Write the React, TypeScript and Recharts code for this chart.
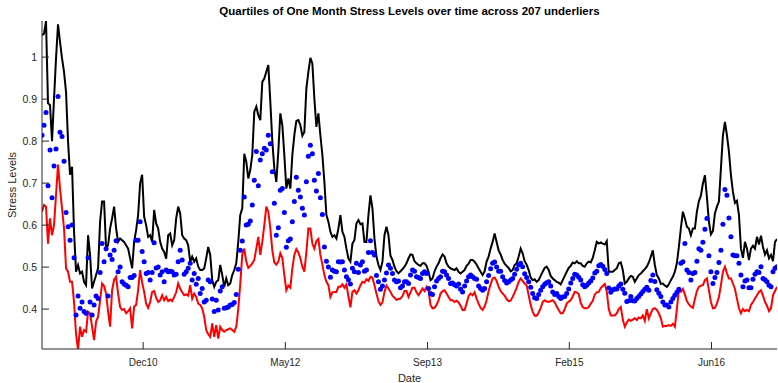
import React from "react";
import { LineChart, Line, XAxis, YAxis } from "recharts";

// Weekly quartiles of one-month stress levels (207 underliers)
const upperQuartile: number[] = [
  1.052, 1.056, 1.086, 0.89, 0.886, 0.8, 0.9, 0.997, 1.078, 1.036,
  0.997, 0.965, 0.917, 0.8, 0.72, 0.739, 0.584, 0.489, 0.505, 0.485,
  0.489, 0.465, 0.457, 0.576, 0.529, 0.449, 0.465, 0.481, 0.497, 0.608,
  0.656, 0.656, 0.544, 0.552, 0.592, 0.616, 0.644, 0.592, 0.56, 0.568,
  0.564, 0.56, 0.552, 0.544, 0.521, 0.497, 0.56, 0.588, 0.624, 0.7,
  0.72, 0.62, 0.6, 0.572, 0.576, 0.56, 0.636, 0.604, 0.592, 0.56,
  0.544, 0.536, 0.52, 0.576, 0.58, 0.552, 0.564, 0.616, 0.644, 0.628,
  0.576, 0.568, 0.564, 0.552, 0.513, 0.525, 0.513, 0.521, 0.501, 0.493,
  0.493, 0.497, 0.521, 0.548, 0.529, 0.469, 0.453, 0.465, 0.469, 0.505,
  0.481, 0.453, 0.473, 0.457, 0.461, 0.481, 0.493, 0.509, 0.56, 0.624,
  0.64, 0.77, 0.751, 0.711, 0.731, 0.767, 0.87, 0.882, 0.862, 0.85,
  0.941, 0.949, 0.965, 0.981, 0.894, 0.8, 0.735, 0.703, 0.775, 0.866,
  0.838, 0.767, 0.687, 0.711, 0.687, 0.767, 0.814, 0.848, 0.85, 0.838,
  0.813, 0.822, 0.925, 0.965, 0.998, 0.985, 0.901, 0.834, 0.866, 0.814,
  0.767, 0.703, 0.624, 0.608, 0.584, 0.572, 0.576, 0.568, 0.592, 0.624,
  0.584, 0.572, 0.544, 0.521, 0.513, 0.556, 0.564, 0.604, 0.612, 0.602,
  0.604, 0.56, 0.56, 0.624, 0.671, 0.64, 0.568, 0.525, 0.505, 0.493,
  0.513, 0.576, 0.596, 0.576, 0.527, 0.517, 0.501, 0.49, 0.485, 0.49,
  0.495, 0.501, 0.509, 0.521, 0.53, 0.529, 0.514, 0.509, 0.505, 0.503,
  0.509, 0.509, 0.503, 0.489, 0.469, 0.473, 0.49, 0.501, 0.509, 0.521,
  0.53, 0.525, 0.509, 0.501, 0.497, 0.495, 0.493, 0.497, 0.489, 0.485,
  0.489, 0.493, 0.503, 0.508, 0.517, 0.517, 0.513, 0.506, 0.497, 0.489,
  0.481, 0.49, 0.513, 0.525, 0.544, 0.56, 0.58, 0.56, 0.54, 0.53,
  0.517, 0.508, 0.503, 0.498, 0.49, 0.493, 0.505, 0.509, 0.525, 0.544,
  0.533, 0.514, 0.506, 0.493, 0.475, 0.469, 0.471, 0.465, 0.469, 0.479,
  0.489, 0.498, 0.501, 0.493, 0.479, 0.473, 0.469, 0.465, 0.463, 0.459,
  0.469, 0.479, 0.489, 0.498, 0.503, 0.511, 0.509, 0.514, 0.509, 0.509,
  0.503, 0.501, 0.509, 0.513, 0.511, 0.522, 0.54, 0.56, 0.556, 0.559,
  0.556, 0.554, 0.562, 0.489, 0.489, 0.489, 0.493, 0.497, 0.509, 0.511,
  0.493, 0.461, 0.465, 0.473, 0.479, 0.477, 0.465, 0.473, 0.481, 0.485,
  0.49, 0.495, 0.501, 0.511, 0.525, 0.54, 0.505, 0.481, 0.473, 0.46,
  0.461, 0.456, 0.453, 0.459, 0.469, 0.477, 0.489, 0.509, 0.548, 0.592,
  0.632, 0.616, 0.596, 0.592, 0.576, 0.592, 0.592, 0.632, 0.657, 0.67,
  0.699, 0.719, 0.667, 0.608, 0.578, 0.586, 0.628, 0.644, 0.656, 0.735,
  0.814, 0.846, 0.814, 0.775, 0.719, 0.679, 0.653, 0.658, 0.624, 0.544,
  0.522, 0.56, 0.544, 0.517, 0.544, 0.551, 0.544, 0.572, 0.554, 0.575,
  0.548, 0.53, 0.54, 0.521, 0.529, 0.514, 0.56, 0.567,
];

const medianLevel: number[] = [
  0.814, 0.838, 0.868, 0.694, 0.779, 0.665, 0.741, 0.781, 0.906, 0.821,
  0.811, 0.752, 0.63, 0.596, 0.564, 0.6, 0.522, 0.386, 0.431, 0.402,
  0.417, 0.394, 0.39, 0.522, 0.417, 0.386, 0.41, 0.431, 0.425, 0.487,
  0.556, 0.513, 0.544, 0.431, 0.529, 0.518, 0.54, 0.563, 0.489, 0.5,
  0.465, 0.46, 0.457, 0.453, 0.475, 0.475, 0.48, 0.564, 0.564, 0.608,
  0.537, 0.513, 0.485, 0.487, 0.469, 0.487, 0.558, 0.498, 0.5, 0.481,
  0.489, 0.465, 0.493, 0.489, 0.49, 0.489, 0.481, 0.483, 0.513, 0.54,
  0.517, 0.483, 0.489, 0.497, 0.509, 0.469, 0.485, 0.459, 0.473, 0.437,
  0.449, 0.417, 0.421, 0.469, 0.465, 0.424, 0.394, 0.421, 0.398, 0.443,
  0.453, 0.402, 0.403, 0.405, 0.41, 0.411, 0.416, 0.435, 0.495, 0.54,
  0.562, 0.667, 0.6, 0.602, 0.61, 0.648, 0.707, 0.775, 0.694, 0.755,
  0.77, 0.783, 0.779, 0.814, 0.794, 0.727, 0.652, 0.576, 0.594, 0.683,
  0.687, 0.63, 0.547, 0.563, 0.567, 0.608, 0.656, 0.714, 0.683, 0.667,
  0.64, 0.624, 0.703, 0.764, 0.79, 0.77, 0.707, 0.681, 0.723, 0.665,
  0.625, 0.548, 0.514, 0.5, 0.476, 0.493, 0.49, 0.489, 0.513, 0.512,
  0.513, 0.493, 0.477, 0.47, 0.46, 0.497, 0.489, 0.509, 0.487, 0.505,
  0.513, 0.49, 0.493, 0.535, 0.563, 0.535, 0.529, 0.48, 0.465, 0.447,
  0.455, 0.469, 0.486, 0.505, 0.497, 0.485, 0.469, 0.465, 0.467, 0.451,
  0.455, 0.465, 0.465, 0.461, 0.481, 0.493, 0.49, 0.477, 0.475, 0.473,
  0.485, 0.489, 0.485, 0.449, 0.437, 0.435, 0.453, 0.467, 0.473, 0.477,
  0.49, 0.489, 0.481, 0.473, 0.461, 0.462, 0.458, 0.455, 0.46, 0.447,
  0.441, 0.455, 0.467, 0.477, 0.481, 0.477, 0.473, 0.471, 0.455, 0.449,
  0.445, 0.449, 0.465, 0.48, 0.496, 0.509, 0.512, 0.5, 0.49, 0.49,
  0.477, 0.468, 0.462, 0.465, 0.469, 0.473, 0.483, 0.495, 0.505, 0.509,
  0.501, 0.484, 0.475, 0.465, 0.452, 0.437, 0.427, 0.425, 0.435, 0.445,
  0.453, 0.459, 0.463, 0.465, 0.455, 0.441, 0.435, 0.437, 0.43, 0.425,
  0.429, 0.43, 0.437, 0.448, 0.462, 0.473, 0.483, 0.481, 0.476, 0.469,
  0.458, 0.453, 0.457, 0.462, 0.467, 0.474, 0.486, 0.49, 0.503, 0.506,
  0.502, 0.494, 0.485, 0.45, 0.44, 0.446, 0.448, 0.448, 0.455, 0.46,
  0.447, 0.438, 0.418, 0.42, 0.43, 0.42, 0.419, 0.425, 0.43, 0.436,
  0.442, 0.447, 0.452, 0.445, 0.468, 0.481, 0.466, 0.446, 0.438, 0.43,
  0.417, 0.41, 0.41, 0.405, 0.417, 0.425, 0.433, 0.44, 0.447, 0.509,
  0.513, 0.556, 0.493, 0.487, 0.469, 0.485, 0.487, 0.514, 0.544, 0.54,
  0.559, 0.59, 0.616, 0.527, 0.489, 0.461, 0.475, 0.487, 0.511, 0.54,
  0.602, 0.685, 0.671, 0.617, 0.572, 0.529, 0.527, 0.527, 0.509, 0.481,
  0.453, 0.467, 0.469, 0.451, 0.451, 0.471, 0.483, 0.489, 0.487, 0.501,
  0.473, 0.47, 0.465, 0.457, 0.453, 0.489, 0.497, 0.501,
];

const lowerQuartile: number[] = [
  0.632, 0.648, 0.644, 0.556, 0.616, 0.576, 0.6, 0.671, 0.744, 0.687,
  0.64, 0.592, 0.497, 0.489, 0.465, 0.465, 0.417, 0.34, 0.303, 0.358,
  0.334, 0.35, 0.346, 0.394, 0.39, 0.358, 0.326, 0.37, 0.382, 0.42,
  0.461, 0.455, 0.437, 0.394, 0.358, 0.445, 0.47, 0.477, 0.437, 0.405,
  0.398, 0.4, 0.39, 0.395, 0.402, 0.354, 0.406, 0.41, 0.445, 0.493,
  0.463, 0.441, 0.413, 0.403, 0.417, 0.441, 0.443, 0.427, 0.417, 0.421,
  0.433, 0.421, 0.429, 0.419, 0.423, 0.419, 0.429, 0.44, 0.461, 0.449,
  0.44, 0.433, 0.435, 0.432, 0.457, 0.425, 0.437, 0.429, 0.413, 0.41,
  0.402, 0.382, 0.35, 0.34, 0.334, 0.366, 0.334, 0.362, 0.33, 0.358,
  0.35, 0.346, 0.35, 0.352, 0.354, 0.35, 0.346, 0.358, 0.4, 0.46,
  0.53, 0.544, 0.513, 0.498, 0.503, 0.509, 0.517, 0.544, 0.572, 0.529,
  0.56, 0.6, 0.644, 0.632, 0.592, 0.54, 0.511, 0.506, 0.513, 0.533,
  0.522, 0.481, 0.445, 0.456, 0.451, 0.497, 0.529, 0.543, 0.535, 0.521,
  0.501, 0.489, 0.536, 0.592, 0.592, 0.556, 0.544, 0.562, 0.567, 0.529,
  0.506, 0.481, 0.465, 0.457, 0.429, 0.44, 0.441, 0.441, 0.453, 0.453,
  0.459, 0.451, 0.459, 0.43, 0.404, 0.441, 0.445, 0.437, 0.445, 0.457,
  0.465, 0.463, 0.471, 0.467, 0.477, 0.475, 0.457, 0.437, 0.419, 0.41,
  0.416, 0.441, 0.456, 0.449, 0.441, 0.432, 0.427, 0.422, 0.424, 0.425,
  0.431, 0.443, 0.443, 0.429, 0.44, 0.451, 0.451, 0.44, 0.433, 0.441,
  0.449, 0.443, 0.453, 0.445, 0.41, 0.402, 0.403, 0.41, 0.421, 0.437,
  0.443, 0.445, 0.437, 0.429, 0.421, 0.421, 0.417, 0.42, 0.416, 0.408,
  0.398, 0.398, 0.413, 0.431, 0.437, 0.433, 0.44, 0.425, 0.413, 0.403,
  0.398, 0.406, 0.421, 0.443, 0.459, 0.473, 0.475, 0.467, 0.453, 0.443,
  0.437, 0.432, 0.424, 0.419, 0.42, 0.429, 0.439, 0.451, 0.465, 0.473,
  0.467, 0.461, 0.456, 0.433, 0.41, 0.394, 0.384, 0.384, 0.392, 0.403,
  0.417, 0.421, 0.418, 0.417, 0.419, 0.421, 0.416, 0.406, 0.398, 0.39,
  0.39, 0.4, 0.413, 0.418, 0.421, 0.43, 0.441, 0.44, 0.436, 0.415,
  0.405, 0.402, 0.402, 0.405, 0.413, 0.42, 0.435, 0.44, 0.441, 0.45,
  0.455, 0.46, 0.442, 0.4, 0.385, 0.385, 0.385, 0.39, 0.4, 0.405,
  0.375, 0.358, 0.368, 0.375, 0.372, 0.375, 0.378, 0.374, 0.38, 0.378,
  0.385, 0.372, 0.4, 0.378, 0.39, 0.4, 0.402, 0.398, 0.39, 0.378,
  0.358, 0.36, 0.36, 0.362, 0.36, 0.365, 0.358, 0.4, 0.445, 0.441,
  0.448, 0.435, 0.419, 0.411, 0.406, 0.403, 0.424, 0.443, 0.453, 0.456,
  0.457, 0.469, 0.473, 0.445, 0.417, 0.402, 0.403, 0.413, 0.429, 0.457,
  0.489, 0.501, 0.485, 0.473, 0.473, 0.461, 0.448, 0.425, 0.402, 0.39,
  0.4, 0.395, 0.398, 0.395, 0.41, 0.417, 0.425, 0.433, 0.441, 0.445,
  0.432, 0.417, 0.408, 0.395, 0.402, 0.433, 0.443, 0.453,
];

// Date ticks sit at these week indices
const dateTickWeeks = [50.5, 121.5, 192.5, 263.3, 334.3];
const dateTickLabels = ["Dec10", "May12", "Sep13", "Feb15", "Jun16"];
const levelTicks = [0.4, 0.5, 0.6, 0.7, 0.8, 0.9, 1];

const data = upperQuartile.map((upper, week) => ({
  week,
  upper,
  median: medianLevel[week],
  lower: lowerQuartile[week],
}));

const axisColor = "#262626";
const font = "'Liberation Sans', Arial, Helvetica, sans-serif";
const yDomain: [number, number] = [0.305, 1.086];
const xDomain: [number, number] = [0, upperQuartile.length - 1];

const xTickText = { fill: axisColor, fontSize: 10, fontFamily: font };
const yTickText = { fill: axisColor, fontSize: 10.5, fontFamily: font };

function dateLabel(v: number) {
  const i = dateTickWeeks.indexOf(v);
  return i >= 0 ? dateTickLabels[i] : "";
}

export default function App() {
  return (
    <div style={{ position: "absolute", left: 0, top: 0, width: 778, height: 383, background: "#fff" }}>
      <div
        style={{
          position: "absolute",
          left: 42,
          top: 5,
          width: 735,
          textAlign: "center",
          fontFamily: font,
          fontWeight: "bold",
          fontSize: 11.5,
          lineHeight: "13px",
          color: "#000",
        }}
      >
        Quartiles of One Month Stress Levels over time across 207 underliers
      </div>
      <LineChart
        width={778}
        height={383}
        data={data}
        margin={{ top: 21, right: 1, bottom: 0, left: 0 }}
      >
        <XAxis
          xAxisId="bottom"
          dataKey="week"
          type="number"
          domain={xDomain}
          allowDataOverflow
          ticks={dateTickWeeks}
          tickFormatter={dateLabel}
          height={34}
          stroke={axisColor}
          tickSize={-7}
          tickMargin={17}
          tick={xTickText}
          label={{
            value: "Date",
            position: "insideBottom",
            offset: 1,
            style: { fill: axisColor, fontSize: 11, fontFamily: font },
          }}
        />
        <XAxis
          xAxisId="top"
          dataKey="week"
          type="number"
          orientation="top"
          domain={xDomain}
          allowDataOverflow
          ticks={dateTickWeeks}
          height={0}
          stroke={axisColor}
          tickSize={-7}
          tick={false}
        />
        <YAxis
          yAxisId="left"
          type="number"
          domain={yDomain}
          allowDataOverflow
          ticks={levelTicks}
          tickFormatter={(v: number) => String(v)}
          width={42}
          stroke={axisColor}
          tickSize={-7}
          tickMargin={12}
          tick={yTickText}
          label={{
            value: "Stress Levels",
            angle: -90,
            position: "insideLeft",
            offset: 12,
            style: { fill: axisColor, fontSize: 11, fontFamily: font, textAnchor: "middle" },
          }}
        />
        <YAxis
          yAxisId="right"
          type="number"
          orientation="right"
          domain={yDomain}
          allowDataOverflow
          ticks={levelTicks}
          width={0}
          stroke={axisColor}
          tickSize={-7}
          tick={false}
        />
        <Line
          xAxisId="bottom"
          yAxisId="left"
          dataKey="upper"
          stroke="#000000"
          strokeWidth={2}
          dot={false}
          isAnimationActive={false}
        />
        <Line
          xAxisId="bottom"
          yAxisId="left"
          dataKey="median"
          stroke="none"
          dot={{ r: 2.5, fill: "#0000ff", stroke: "none" }}
          isAnimationActive={false}
        />
        <Line
          xAxisId="bottom"
          yAxisId="left"
          dataKey="lower"
          stroke="#ff0000"
          strokeWidth={2}
          dot={false}
          isAnimationActive={false}
        />
      </LineChart>
    </div>
  );
}
